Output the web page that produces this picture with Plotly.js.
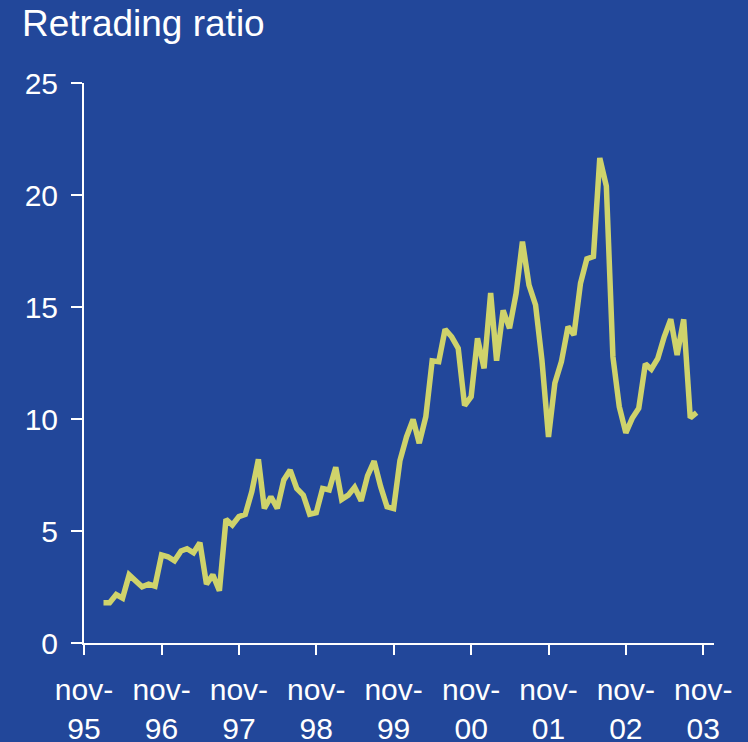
<!DOCTYPE html>
<html>
<head>
<meta charset="utf-8">
<script src="https://cdn.plot.ly/plotly-3.0.1.min.js"></script>
<style>
html,body{margin:0;padding:0;background:#22479a;}
#chart{width:748px;height:742px;}
</style>
</head>
<body>
<div id="chart"></div>
<script>
// Monthly retrading ratio, Feb 1996 .. Oct 2003
const startYear = 1996, startMonth = 2;
const ratio = [
  1.80, 1.80, 2.16, 2.00, 3.04, 2.81, 2.51, 2.63, 2.54, 3.93,
  3.85, 3.67, 4.11, 4.21, 4.03, 4.48, 2.63, 3.04, 2.33, 5.52,
  5.27, 5.64, 5.74, 6.76, 8.20, 6.01, 6.53, 6.01, 7.28, 7.72,
  6.90, 6.60, 5.75, 5.82, 6.90, 6.83, 7.85, 6.41, 6.60, 6.95,
  6.35, 7.46, 8.12, 6.98, 6.08, 6.00, 8.15, 9.20, 9.98, 8.92,
  10.10, 12.60, 12.56, 14.00, 13.67, 13.15, 10.60, 11.00, 13.60, 12.26,
  15.62, 12.60, 14.85, 14.05, 15.60, 17.92, 15.98, 15.09, 12.63, 9.20,
  11.60, 12.56, 14.12, 13.75, 16.06, 17.15, 17.25, 21.65, 20.40, 12.78,
  10.55, 9.38, 10.03, 10.48, 12.46, 12.22, 12.71, 13.67, 14.45, 12.86,
  14.45, 10.05, 10.28
];
const tickDates = ["1995-11-01","1996-11-01","1997-11-01","1998-11-01","1999-11-01",
                   "2000-11-01","2001-11-01","2002-11-01","2003-11-01"];
const tickLabels = ["nov-<br>95","nov-<br>96","nov-<br>97","nov-<br>98","nov-<br>99",
                    "nov-<br>00","nov-<br>01","nov-<br>02","nov-<br>03"];
const yTicks = [0, 5, 10, 15, 20, 25];

const months = ratio.map((_, i) => {
  const m0 = startMonth - 1 + i;
  const y = startYear + Math.floor(m0 / 12);
  const m = (m0 % 12) + 1;
  return y + "-" + String(m).padStart(2, "0") + "-01";
});

const bg = "#22479a";
const fontFam = "Liberation Sans, Arial, sans-serif";

Plotly.newPlot("chart", [{
  x: months,
  y: ratio,
  type: "scatter",
  mode: "lines",
  line: {color: "#cfd36b", width: 5.5},
  hoverinfo: "skip"
}], {
  width: 748, height: 742,
  paper_bgcolor: bg, plot_bgcolor: bg,
  margin: {l: 84, r: 34, t: 83, b: 99},
  showlegend: false,
  font: {family: fontFam, color: "#ffffff", size: 30},
  title: {
    text: "Retrading ratio",
    font: {family: fontFam, size: 37, color: "#ffffff"},
    x: 22 / 748, xanchor: "left", xref: "container",
    y: 0.987, yanchor: "top", yref: "container"
  },
  xaxis: {
    type: "date",
    range: ["1995-11-01", "2003-12-22"],
    tickmode: "array", tickvals: tickDates, ticktext: tickLabels,
    showgrid: false, zeroline: false,
    showline: true, linecolor: "#ffffff", linewidth: 2,
    ticks: "outside", ticklen: 10, tickwidth: 2, tickcolor: "#ffffff",
    tickfont: {family: fontFam, size: 30, color: "#ffffff"},
    ticklabelstandoff: 9,
    fixedrange: true
  },
  yaxis: {
    range: [0, 25],
    tickmode: "array", tickvals: yTicks,
    showgrid: false, zeroline: false,
    showline: true, linecolor: "#ffffff", linewidth: 2,
    ticks: "outside", ticklen: 11, tickwidth: 2, tickcolor: "#ffffff",
    tickfont: {family: fontFam, size: 30, color: "#ffffff"},
    ticklabelstandoff: 7,
    fixedrange: true
  }
}, {displayModeBar: false, staticPlot: true});
</script>
</body>
</html>
